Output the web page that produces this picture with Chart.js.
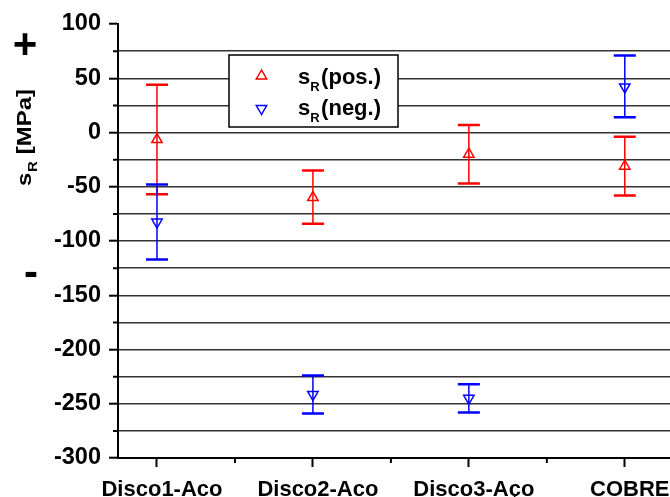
<!DOCTYPE html>
<html><head><meta charset="utf-8">
<script src="https://cdn.jsdelivr.net/npm/chart.js@4.4.0/dist/chart.umd.min.js"></script>
<style>html,body{margin:0;padding:0;background:#fff}canvas{display:block}</style>
</head><body>
<canvas id="c" width="670" height="497"></canvas>
<script>
// ---- data ----
const categories = ['Disco1-Aco', 'Disco2-Aco', 'Disco3-Aço', 'COBRE'];
const posMean = [-6.5, -60, -20, -31];
const posLow  = [-57, -84, -47, -58];
const posHigh = [44, -35, 7, -4];
const negMean = [-82.5, -241.5, -245, 42];
const negLow  = [-117, -259, -258, 14];
const negHigh = [-48, -224, -232, 71];
const yLabelTicks = [100, 50, 0, -50, -100, -150, -200, -250, -300];
const xMinorTicks = [1.5, 2.5, 3.5];

const FONT = "'Liberation Sans', Arial, Helvetica, sans-serif";
Chart.defaults.font.family = FONT;
Chart.defaults.color = '#000';

const RED = '#ff0000', BLUE = '#0000ff';

const errorBars = {
  id: 'errorBars',
  beforeDatasetsDraw(chart) {
    const ctx = chart.ctx, xs = chart.scales.x, ys = chart.scales.y;
    chart.data.datasets.forEach(ds => {
      ds.data.forEach((p, i) => {
        const x = xs.getPixelForValue(p.x);
        const yl = ys.getPixelForValue(ds.errLow[i]);
        const yh = ys.getPixelForValue(ds.errHigh[i]);
        ctx.save();
        ctx.strokeStyle = ds.borderColor;
        ctx.lineWidth = 1.5;
        ctx.beginPath(); ctx.moveTo(x, yl); ctx.lineTo(x, yh); ctx.stroke();
        ctx.lineWidth = 2.5;
        ctx.beginPath();
        ctx.moveTo(x - 11, yl); ctx.lineTo(x + 11, yl);
        ctx.moveTo(x - 11, yh); ctx.lineTo(x + 11, yh);
        ctx.stroke();
        ctx.restore();
      });
    });
  }
};

const decorations = {
  id: 'decorations',
  afterDraw(chart) {
    const ctx = chart.ctx, xs = chart.scales.x, ys = chart.scales.y;
    const a = chart.chartArea;
    ctx.save();
    // minor ticks
    ctx.strokeStyle = '#000'; ctx.lineWidth = 2;
    ctx.beginPath();
    for (let v = -275; v < 100; v += 50) {
      const y = ys.getPixelForValue(v);
      ctx.moveTo(a.left - 5, y); ctx.lineTo(a.left, y);
    }
    xMinorTicks.forEach(v => {
      const x = xs.getPixelForValue(v);
      ctx.moveTo(x, a.bottom); ctx.lineTo(x, a.bottom + 5);
    });
    ctx.stroke();

    // + and - signs
    ctx.fillStyle = '#000';
    ctx.textAlign = 'center'; ctx.textBaseline = 'alphabetic';
    ctx.font = 'bold 42px ' + FONT;
    ctx.fillText('+', 25, 58);
    ctx.fillText('-', 31, 286);

    // axis title (rotated) s_R [MPa]
    ctx.save();
    ctx.translate(31, 186);
    ctx.rotate(-Math.PI / 2);
    ctx.scale(1.14, 1);
    ctx.textAlign = 'left';
    ctx.font = 'bold 21px ' + FONT;
    let w = ctx.measureText('s').width;
    ctx.fillText('s', 0, 0);
    ctx.font = 'bold 13px ' + FONT;
    ctx.fillText('R', w + 0.5, 6);
    let w2 = ctx.measureText('R').width;
    ctx.font = 'bold 21px ' + FONT;
    ctx.fillText(' [MPa]', w + w2 + 1, 0);
    ctx.restore();

    // legend
    const lx = 229, ly = 55, lw = 169, lh = 72;
    ctx.fillStyle = '#fff';
    ctx.fillRect(lx, ly, lw, lh);
    ctx.strokeStyle = '#000'; ctx.lineWidth = 1.5;
    ctx.strokeRect(lx, ly, lw, lh);
    const rows = [
      {color: RED, up: true, cy: 76, base: 84, txt: '(pos.)'},
      {color: BLUE, up: false, cy: 108.5, base: 115, txt: '(neg.)'}
    ];
    rows.forEach(r => {
      const cx = 261.5, rad = 6;
      ctx.strokeStyle = r.color; ctx.lineWidth = 1.5;
      ctx.beginPath();
      const s = r.up ? -1 : 1;
      ctx.moveTo(cx, r.cy + s * rad);
      ctx.lineTo(cx - rad * 0.866, r.cy - s * rad * 0.5);
      ctx.lineTo(cx + rad * 0.866, r.cy - s * rad * 0.5);
      ctx.closePath(); ctx.stroke();
      ctx.fillStyle = '#000';
      ctx.textAlign = 'left';
      ctx.font = 'bold 22px ' + FONT;
      ctx.fillText('s', 298, r.base);
      const sw = ctx.measureText('s').width;
      ctx.font = 'bold 13px ' + FONT;
      ctx.fillText('R', 298 + sw, r.base + 7);
      const rw = ctx.measureText('R').width;
      ctx.font = 'bold 22px ' + FONT;
      ctx.fillText(r.txt, 298 + sw + rw + 1.5, r.base);
    });
    ctx.restore();
  }
};

new Chart(document.getElementById('c'), {
  type: 'scatter',
  data: {
    datasets: [
      {
        label: 'sR(pos.)',
        data: posMean.map((v, i) => ({x: i + 1, y: v})),
        errLow: posLow, errHigh: posHigh,
        borderColor: RED, backgroundColor: 'rgba(0,0,0,0)',
        pointStyle: 'triangle', pointRotation: 0, pointRadius: 6, pointBorderWidth: 1.5
      },
      {
        label: 'sR(neg.)',
        data: negMean.map((v, i) => ({x: i + 1, y: v})),
        errLow: negLow, errHigh: negHigh,
        borderColor: BLUE, backgroundColor: 'rgba(0,0,0,0)',
        pointStyle: 'triangle', pointRotation: 180, pointRadius: 6, pointBorderWidth: 1.5
      }
    ]
  },
  options: {
    responsive: false,
    animation: false,
    events: [],
    layout: {autoPadding: false, padding: {top: 24, right: 0, bottom: 0, left: 0}},
    plugins: {legend: {display: false}, tooltip: {enabled: false}},
    scales: {
      x: {
        type: 'linear', min: 0.75, max: 4.29,
        afterBuildTicks: s => { s.ticks = categories.map((c, i) => ({value: i + 1})); },
        afterFit: s => { s.height = 39; s.paddingRight = 0; s.paddingLeft = 0; },
        grid: {drawOnChartArea: false, tickLength: 9, tickWidth: 2, tickColor: '#000'},
        border: {display: true, color: '#000', width: 2},
        ticks: {
          autoSkip: false, maxRotation: 0, minRotation: 0, padding: 10, labelOffset: 5,
          font: {size: 22, weight: 'bold'}, color: '#000',
          callback: v => categories[Math.round(v) - 1] || ''
        }
      },
      y: {
        type: 'linear', min: -300, max: 100,
        afterFit: s => { s.width = 118; s.paddingTop = 0; s.paddingBottom = 0; },
        grid: {
          color: c => (c.tick && (c.tick.value === 100 || c.tick.value === -300)) ? 'rgba(0,0,0,0)' : '#333',
          lineWidth: 1.4,
          tickLength: 9, tickWidth: 2,
          tickColor: c => (c.tick && yLabelTicks.includes(c.tick.value)) ? '#000' : 'rgba(0,0,0,0)'
        },
        border: {display: true, color: '#000', width: 2},
        ticks: {
          stepSize: 25, padding: 8, autoSkip: false,
          font: {size: 23.5, weight: 'bold'}, color: '#000',
          callback: v => yLabelTicks.includes(v) ? String(v) : ''
        }
      }
    }
  },
  plugins: [errorBars, decorations]
});
</script>
</body></html>
